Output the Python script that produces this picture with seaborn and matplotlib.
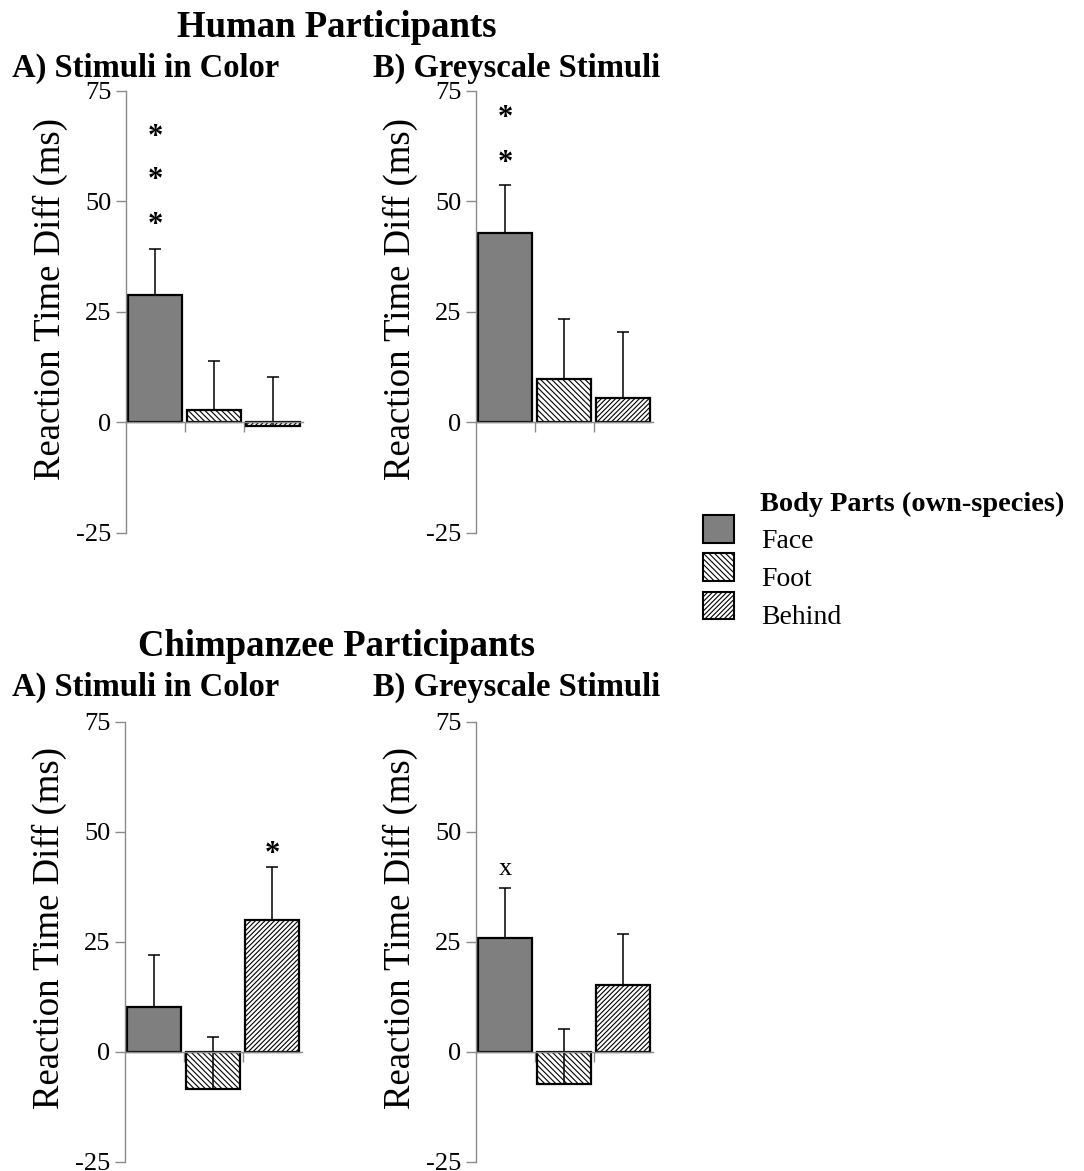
import numpy as np
import pandas as pd
import matplotlib
matplotlib.use("Agg")
import matplotlib.pyplot as plt
from matplotlib.patches import Patch
import seaborn as sns

# values (ms)
parts = ["Face", "Foot", "Behind"]
part_colors = ["#7f7f7f", "white", "white"]
part_hatches = ["", "\\\\\\\\\\\\", "///////"]

human_color_diff = [28.8, 2.8, -1.0]
human_color_err = [10.4, 11.0, 11.2]
human_grey_diff = [42.7, 9.8, 5.4]
human_grey_err = [11.0, 13.6, 15.0]
chimp_color_diff = [10.3, -8.4, 30.0]
chimp_color_err = [11.7, 11.7, 12.0]
chimp_grey_diff = [25.8, -7.2, 15.3]
chimp_grey_err = [11.5, 12.5, 11.5]

# significance marks: (label, bar index, y)
human_color_marks = [("*", 0, 65.8), ("*", 0, 56.1), ("*", 0, 45.9)]
human_grey_marks = [("*", 0, 70.0), ("*", 0, 60.0)]
chimp_color_marks = [("*", 2, 46.3)]
chimp_grey_marks = [("x", 0, 41.5)]

yticks = [-25, 0, 25, 50, 75]

sns.set_style("white")
plt.rcParams["font.family"] = ["Liberation Serif", "DejaVu Serif"]
plt.rcParams["text.color"] = "black"
plt.rcParams["axes.labelcolor"] = "black"
plt.rcParams["hatch.linewidth"] = 0.8
plt.rcParams["hatch.color"] = "black"

W, H = 1084, 1171
fig = plt.figure(figsize=(W / 100, H / 100), dpi=100)
fig.patch.set_facecolor("white")

AXIS_GREY = "#8a8a8a"


def draw_panel(rect, diffs, errs, marks, label_y):
    ax = fig.add_axes(rect)
    df = pd.DataFrame({"part": parts, "diff": diffs})
    sns.barplot(data=df, x="part", y="diff", hue="part", order=parts,
                hue_order=parts, palette=part_colors, width=0.915,
                errorbar=None, legend=False, ax=ax,
                edgecolor="black", linewidth=1.6)
    for patch, hatch in zip(ax.patches, part_hatches):
        patch.set_hatch(hatch)
    ax.errorbar(x=np.arange(len(parts)), y=diffs,
                yerr=[np.zeros(len(errs)), errs], fmt="none",
                ecolor="black", elinewidth=1.1, capsize=4.5, capthick=1.1)
    for label, idx, yv in marks:
        if label == "*":
            ax.annotate(label, (idx, yv), xytext=(0, -4.5),
                        textcoords="offset points", ha="center", va="center",
                        fontsize=22, fontweight="bold")
        else:
            ax.annotate(label, (idx, yv), xytext=(0, 0),
                        textcoords="offset points", ha="center", va="center",
                        fontsize=19)

    ax.set_xlim(-0.5, 2.5)
    ax.set_ylim(-25, 75)
    ax.set_yticks(yticks)
    ax.set_yticklabels([str(t) for t in yticks], fontsize=19)
    ax.set_xticks([0.5, 1.5])
    ax.set_xticklabels([])
    ax.set_xlabel("")
    ax.set_ylabel("Reaction Time Diff (ms)", fontsize=26.5)
    ax.yaxis.set_label_coords(-0.325, label_y)
    for s in ["top", "right"]:
        ax.spines[s].set_visible(False)
    ax.spines["bottom"].set_position(("data", 0))
    for s in ["left", "bottom"]:
        ax.spines[s].set_color(AXIS_GREY)
        ax.spines[s].set_linewidth(1.0)
    ax.tick_params(axis="y", direction="out", length=7, width=1,
                   color=AXIS_GREY, labelcolor="black", pad=3, left=True)
    ax.tick_params(axis="x", direction="out", length=7, width=1,
                   color=AXIS_GREY, bottom=True)
    ax.set_facecolor("none")
    return ax


def rect(left, top, bottom, right):
    return [left / W, 1 - bottom / H, (right - left) / W, (bottom - top) / H]


draw_panel(rect(125.5, 90.5, 532.5, 302.5), human_color_diff,
           human_color_err, human_color_marks, 0.528)
draw_panel(rect(475.5, 90.5, 532.5, 652.5), human_grey_diff,
           human_grey_err, human_grey_marks, 0.528)
draw_panel(rect(124.5, 722, 1162, 301.5), chimp_color_diff,
           chimp_color_err, chimp_color_marks, 0.532)
draw_panel(rect(475.5, 722, 1162, 652.5), chimp_grey_diff,
           chimp_grey_err, chimp_grey_marks, 0.532)

# titles
fig.text(337 / W, 1 - 37 / H, "Human Participants", ha="center",
         va="baseline", fontsize=26.5, fontweight="bold")
fig.text(12 / W, 1 - 77 / H, "A) Stimuli in Color", ha="left",
         va="baseline", fontsize=23.5, fontweight="bold")
fig.text(373 / W, 1 - 77 / H, "B) Greyscale Stimuli", ha="left",
         va="baseline", fontsize=23.5, fontweight="bold")
fig.text(337 / W, 1 - 656 / H, "Chimpanzee Participants", ha="center",
         va="baseline", fontsize=26.5, fontweight="bold")
fig.text(12 / W, 1 - 696 / H, "A) Stimuli in Color", ha="left",
         va="baseline", fontsize=23.5, fontweight="bold")
fig.text(373 / W, 1 - 696 / H, "B) Greyscale Stimuli", ha="left",
         va="baseline", fontsize=23.5, fontweight="bold")

# legend
fig.text(760 / W, 1 - 504 / H, "Body Parts (own-species)", ha="left",
         va="center", fontsize=20.4, fontweight="bold")
handles = [Patch(facecolor=c, edgecolor="black", hatch=h, linewidth=1.5,
                 label=p) for p, c, h in zip(parts, part_colors, part_hatches)]
leg = fig.legend(handles=handles, loc="upper left",
                 bbox_to_anchor=(703 / W, 1 - 515 / H), frameon=False,
                 fontsize=20, handlelength=1.1, handleheight=1.15,
                 handletextpad=1.0, labelspacing=0.33, borderpad=0,
                 borderaxespad=0)
for t in leg.get_texts():
    t.set_va("center_baseline")

fig.savefig("out.png", dpi=100, facecolor="white")
plt.close(fig)
